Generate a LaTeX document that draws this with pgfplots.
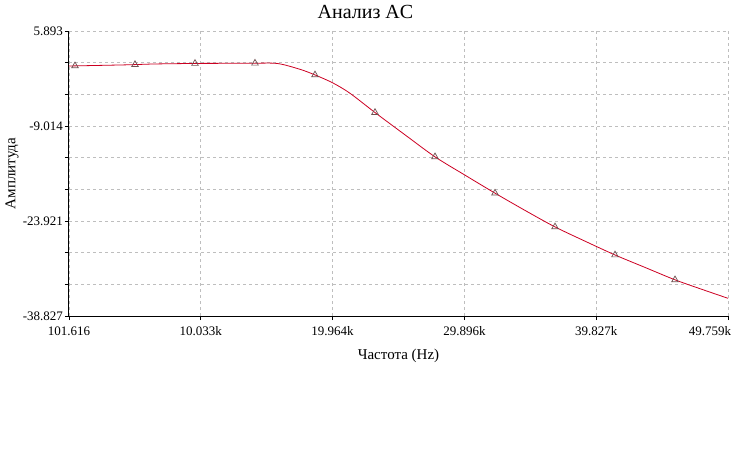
\documentclass[border=0pt]{standalone}
\usepackage{pgfplots}
\pgfplotsset{compat=1.18}
\usepackage{fontspec}
\setmainfont{Liberation Serif}
\definecolor{curve}{RGB}{204,0,34}
\definecolor{mk}{RGB}{110,80,80}
\definecolor{gridc}{RGB}{190,190,190}
\begin{document}
\begin{tikzpicture}[x=1pt,y=1pt]
\path[use as bounding box] (0,0) rectangle (731,450);
\node[font=\fontsize{20}{22}\selectfont] at (365.5,438) {Анализ AC};
\begin{axis}[
  at={(69pt,134pt)}, anchor=south west,
  scale only axis, width=659pt, height=285pt,
  xmin=101.616, xmax=49759, ymin=-38.827, ymax=5.893,
  scaled x ticks=false, scaled y ticks=false,
  axis x line=bottom, axis y line=left,
  axis line style={-, black, line width=1pt},
  tick align=outside, major tick length=4pt,
  tick style={black, line width=0.8pt},
  xtick={101.616,10033,19964,29896,39827,49759},
  xticklabels={101.616,10.033k,19.964k,29.896k,39.827k,\hspace*{-36pt}49.759k},
  ytick={5.893,0.924,-4.045,-9.014,-13.983,-18.952,-23.921,-28.890,-33.859,-38.827},
  yticklabels={5.893,,,-9.014,,,-23.921,,,-38.827},
  ticklabel style={font=\fontsize{13}{14}\selectfont},
  xticklabel style={yshift=-3pt},
  yticklabel style={xshift=1.5pt},
  grid=major,
  grid style={gridc, dash pattern=on 3pt off 3pt, line width=0.7pt},
  xlabel={Частота (Hz)}, ylabel={Амплитуда},
  every axis x label/.style={at={(axis description cs:0.5,0)}, anchor=center, yshift=-40pt, font=\fontsize{15}{16}\selectfont},
  every axis y label/.style={at={(axis description cs:-0.0865,0.5)}, anchor=center, rotate=90, font=\fontsize{15}{16}\selectfont},
  clip=false,
]
\addplot[curve, line width=0.8pt, smooth, tension=0.5] coordinates {
(101.6,0.42) (553.7,0.42) (3945,0.56) (5075,0.62) (6582,0.72) (9596,0.80)
(11857,0.82) (14117,0.84) (15850,0.78) (17508,-0.12) (18638,-1.00)
(19995,-2.27) (21276,-3.88) (23160,-6.90) (25420,-10.40) (27681,-13.85)
(30000,-16.8) (32202,-19.55) (34500,-22.3) (36724,-24.85) (39000,-27.1)
(41245,-29.25) (43500,-31.2) (45766,-33.15) (47800,-34.65) (49759,-36.05)
};
\addplot[only marks, mark=triangle, mark size=3.8pt, mark options={draw=mk, fill=none, line width=0.7pt}] coordinates {
(553.7,0.42) (5075,0.62) (9596,0.80) (14117,0.84) (18638,-1.00) (23160,-6.90)
(27681,-13.85) (32202,-19.55) (36724,-24.85) (41245,-29.25) (45766,-33.15)
};
\end{axis}
\end{tikzpicture}
\end{document}
